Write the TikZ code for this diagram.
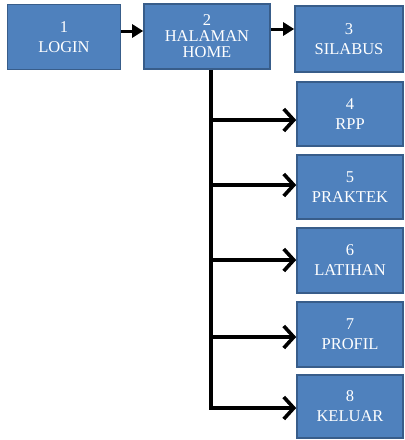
\documentclass[tikz,border=0pt]{standalone}
\usepackage{fontspec}
\setmainfont{Liberation Serif}
\usetikzlibrary{arrows.meta}
\definecolor{boxfill}{HTML}{4F81BD}
\definecolor{boxline}{HTML}{385D8A}
\tikzset{
  box/.style={rectangle, fill=boxfill, draw=boxline, line width=1.6pt, text=white,
    align=center, inner sep=0pt, font=\fontsize{16.5}{20}\selectfont},
  solidarr/.style={line width=3pt, -{Triangle[length=11pt,width=13pt]}},
  openarr/.style={line width=3.2pt, -{Straight Barb[length=10pt,width=22pt,line width=3.6pt]}},
  trunk/.style={line width=3.6pt}
}
\begin{document}
\begin{tikzpicture}[x=1pt,y=-1pt]
\useasboundingbox (0,0) rectangle (405,440);
\node[box, minimum width=113pt, minimum height=65pt] (b1) at (64,37) {1\\LOGIN};
\node[box, minimum width=126pt, minimum height=65pt, font=\fontsize{16.5}{16}\selectfont] (b2) at (207,36.5) {2\\HALAMAN\\HOME};
\node[box, minimum width=108pt, minimum height=66pt] (b3) at (349,39) {3\\SILABUS};
\node[box, minimum width=106pt, minimum height=64pt] (b4) at (350,114) {4\\RPP};
\node[box, minimum width=106pt, minimum height=64pt] (b5) at (350,187) {5\\PRAKTEK};
\node[box, minimum width=106pt, minimum height=65pt] (b6) at (350,260.5) {6\\LATIHAN};
\node[box, minimum width=106pt, minimum height=65pt] (b7) at (350,334.5) {7\\PROFIL};
\node[box, minimum width=106pt, minimum height=63pt] (b8) at (350,406.5) {8\\KELUAR};
\coordinate (a1) at (121,31);
\coordinate (a2) at (271,29);
\draw[solidarr] (a1) -- (a1 -| b2.west);
\draw[solidarr] (a2) -- (a2 -| b3.west);
\coordinate (tx) at (211,0);
\coordinate (t4) at (211,120);
\coordinate (t5) at (211,185);
\coordinate (t6) at (211,260);
\coordinate (t7) at (211,337);
\coordinate (t8) at (211,408);
\draw[trunk] (b2.south -| tx) -- ([yshift=-1.5pt]t8);
\draw[openarr] (t4) -- (t4 -| b4.west);
\draw[openarr] (t5) -- (t5 -| b5.west);
\draw[openarr] (t6) -- (t6 -| b6.west);
\draw[openarr] (t7) -- (t7 -| b7.west);
\draw[openarr] ([xshift=-1.8pt]t8) -- (t8 -| b8.west);
\end{tikzpicture}
\end{document}
